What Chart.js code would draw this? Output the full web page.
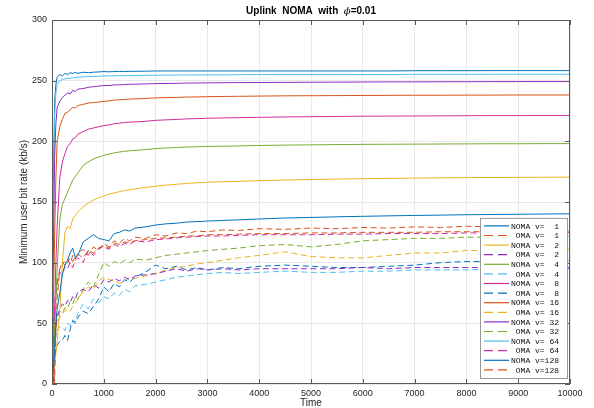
<!DOCTYPE html>
<html>
<head>
<meta charset="utf-8">
<script src="https://cdn.jsdelivr.net/npm/chart.js@4.4.0/dist/chart.umd.min.js"></script>
<style>
  html, body { margin: 0; padding: 0; background: #fff; }
</style>
</head>
<body>
<canvas id="chart" width="594" height="408"></canvas>
<script>
'use strict';

// time axis (samples)
var time = [0, 25, 50, 75, 100, 150, 200, 250, 300, 350, 400, 450, 500, 600, 700, 800, 900, 1000,
    1100, 1200, 1300, 1400, 1500, 1600, 1800, 2000, 2200, 2400, 2600, 2800, 3000, 3300, 3600, 4000,
    4500, 5000, 5500, 6000, 6500, 7000, 7500, 8000, 8500, 9000, 9500, 10000];

var nomaV1 = [0, 10, 30, 50, 62, 75, 90, 98, 102, 108, 112, 104, 106, 117, 120, 123, 120, 119,
    118, 124, 125, 127, 126, 128.5, 129.5, 131, 132, 132.5, 133.5, 133.8, 134.3, 134.8, 135.3, 136,
    136.8, 137.3, 137.8, 138.2, 138.6, 138.9, 139.2, 139.5, 139.7, 139.9, 140.1, 140.3];
var omaV1 = [40, 25, 0, 45, 70, 95, 100, 98, 103, 99, 106, 103, 108, 111, 106, 113, 110, 116,
    113, 118, 116, 120, 118, 121, 120, 123, 122, 124.5, 124, 126, 125.5, 127, 126.5, 128,
    127.5, 128.5, 128, 129, 128.5, 129.5, 129, 130, 129.5, 130, 130, 130];
var nomaV2 = [3, 8, 15, 25, 35, 60, 100, 125, 130, 128, 136, 139, 142, 146, 149, 151.5, 153.5, 155,
    156.5, 157.5, 158.5, 159.5, 160.2, 160.8, 162, 163, 163.9, 164.6, 165.3, 165.8, 166.3, 166.7, 167, 167.6,
    168.1, 168.5, 168.9, 169.2, 169.5, 169.7, 169.9, 170.1, 170.2, 170.3, 170.4, 170.5];
var omaV2 = [30, 0, 20, 45, 55, 62, 66, 64, 69, 67, 72, 70, 76, 78, 76, 82, 79, 86,
    84, 87, 85, 88, 86, 89, 90, 91, 93, 95, 93, 95, 94, 95, 94, 95,
    95, 95, 95, 96, 95, 96, 96, 96, 96, 96, 96, 96];
var nomaV4 = [5, 15, 40, 70, 95, 135, 148, 153, 158, 163, 168, 171, 174, 180, 183, 185.5, 187, 188.5,
    189.5, 190.5, 191.2, 191.8, 192.2, 192.6, 193.2, 194, 194.5, 194.9, 195.3, 195.5, 195.8, 196, 196.2, 196.6,
    196.9, 197.1, 197.3, 197.5, 197.6, 197.7, 197.8, 197.9, 198, 198, 198.1, 198.1];
var omaV4 = [25, 15, 30, 40, 45, 47, 47, 44, 50, 48, 53, 51, 58, 66, 62, 70, 67, 72,
    70, 75, 73, 78, 76, 81, 82, 84, 86, 88, 89, 90, 91, 92, 91, 92,
    93, 92, 92, 93, 93, 94, 94, 94, 95, 95, 95, 95];
var nomaV8 = [10, 30, 60, 100, 130, 170, 183, 190, 196, 198, 202, 203, 206, 208, 210, 211, 212, 213,
    213.5, 214.5, 215, 215.5, 215.8, 216, 216.5, 217.3, 217.7, 218, 218.5, 218.7, 219, 219.3, 219.5, 219.8,
    220.1, 220.3, 220.5, 220.7, 220.8, 220.9, 221, 221.1, 221.2, 221.2, 221.3, 221.3];
var omaV8 = [0, 10, 20, 28, 32, 35, 36, 40, 36, 45, 52, 50, 55, 60, 58, 64, 70, 80,
    76, 83, 80, 86, 84, 88, 92, 98, 95, 97, 94, 96, 94, 96, 95, 97,
    98, 97, 96, 96, 97, 98, 100, 101, 101, 101, 102, 102];
var nomaV16 = [15, 60, 120, 170, 200, 212, 218, 223, 224, 226, 228, 227.5, 229.5, 230.5, 231.5, 232, 232.3, 233,
    233.3, 234, 234.2, 234.6, 234.8, 235, 235.3, 235.8, 236, 236.2, 236.5, 236.6, 236.8, 237, 237.1, 237.3,
    237.5, 237.6, 237.7, 237.8, 237.9, 238, 238, 238.1, 238.1, 238.2, 238.2, 238.2];
var omaV16 = [5, 20, 35, 45, 50, 55, 58, 60, 62, 60, 64, 67, 70, 76, 80, 78, 85, 88,
    86, 85, 83, 84, 88, 87, 89, 91, 94, 96, 97, 99, 100, 102, 104, 106,
    109, 105, 104, 104, 106, 108, 108, 110, 110, 111, 110, 111];
var nomaV32 = [20, 100, 185, 215, 228, 233, 236, 238, 240, 239, 242, 241, 243, 243.5, 244.5, 245, 245.5, 246,
    246, 246.5, 246.6, 246.8, 247, 247.1, 247.3, 247.6, 247.7, 247.8, 248, 248.1, 248.2, 248.3, 248.4, 248.5,
    248.6, 248.7, 248.8, 248.9, 249, 249, 249.1, 249.1, 249.2, 249.2, 249.3, 249.3];
var omaV32 = [10, 30, 45, 50, 55, 60, 58, 63, 62, 68, 66, 72, 70, 78, 84, 80, 90, 100,
    97, 101, 99, 102, 100, 103, 102, 104, 106, 107, 108, 109, 110, 111, 112, 114,
    115, 113, 115, 118, 119, 120, 120, 121, 121, 122, 122, 122];
var nomaV64 = [25, 140, 220, 240, 247, 250, 251, 251.5, 252, 252, 252.5, 252.5, 253, 253, 253.5, 253.5, 253.6, 254,
    254, 254, 254.1, 254.2, 254.2, 254.3, 254.4, 254.5, 254.6, 254.6, 254.7, 254.7, 254.8, 254.8, 254.9, 255,
    255, 255, 255, 255.1, 255.1, 255.2, 255.2, 255.2, 255.3, 255.3, 255.3, 255.3];
var omaV64 = [20, 45, 60, 75, 85, 92, 90, 97, 95, 100, 96, 102, 104, 100, 110, 106, 112, 113,
    111, 115, 113, 116, 115, 118, 117, 119, 119.5, 120.5, 121, 121.5, 122, 122, 122.5, 123,
    123, 123, 123.5, 123.5, 124, 124, 124, 124.5, 124.5, 124.5, 124.5, 125];
var nomaV128 = [30, 160, 232, 247, 253, 255, 254, 256, 255, 256.5, 256, 256.8, 256, 257, 256.5, 257, 257.2, 257.5,
    257.3, 257.5, 257.6, 257.5, 257.7, 257.7, 257.8, 258, 258, 258, 258, 258, 258, 258, 258, 258,
    258, 258, 258, 258, 258, 258.2, 258.2, 258.2, 258.3, 258.3, 258.3, 258.3];
var omaV128 = [35, 50, 60, 70, 80, 95, 98, 102, 100, 104, 101, 105, 107, 104, 110, 108, 112, 114,
    112, 116, 115, 117, 116.5, 118, 119, 120, 120.5, 121, 122, 122, 123, 123, 123.5, 124,
    124, 124.5, 124.5, 125, 125, 125, 125.5, 125.5, 125.5, 126, 126, 126];

var seriesLabels = ['NOMA v=  1', 'OMA v=  1', 'NOMA v=  2', 'OMA v=  2', 'NOMA v=  4', 'OMA v=  4',
    'NOMA v=  8', 'OMA v=  8', 'NOMA v= 16', 'OMA v= 16', 'NOMA v= 32', 'OMA v= 32',
    'NOMA v= 64', 'OMA v= 64', 'NOMA v=128', 'OMA v=128'];
var seriesValues = [nomaV1, omaV1, nomaV2, omaV2, nomaV4, omaV4, nomaV8, omaV8,
    nomaV16, omaV16, nomaV32, omaV32, nomaV64, omaV64, nomaV128, omaV128];

var xTicks = [0, 1000, 2000, 3000, 4000, 5000, 6000, 7000, 8000, 9000, 10000];
var yTicks = [0, 50, 100, 150, 200, 250, 300];

var palette = ['#0072BD', '#D95319', '#EDB120', '#8A2DBE', '#77AC30', '#4DBEEE', '#CF2A9C'],
    axisColor = '#5a5a5a',
    textColor = '#262626',
    sansFont = '"Liberation Sans", Arial, sans-serif';

var toPoints = function (values) {
    return values.map(function (v, i) { return { x: time[i], y: v }; });
};

var datasets = seriesValues.map(function (values, index) {
    var dashed = index % 2 === 1;
    return {
        label: seriesLabels[index],
        data: toPoints(values),
        borderColor: palette[index % palette.length],
        borderWidth: 1,
        borderDash: dashed ? [6, 3.5] : [],
        pointRadius: 0,
        tension: 0,
        fill: false
    };
});

// MATLAB style box with inward ticks on all four sides
var boxPlugin = {
    id: 'boxPlugin',
    afterDraw: function (chart) {
        var ctx = chart.ctx, a = chart.chartArea,
            xs = chart.scales.x, ys = chart.scales.y, tl = 5;

        ctx.save();
        ctx.strokeStyle = axisColor;
        ctx.lineWidth = 1;
        ctx.strokeRect(a.left + 0.5, a.top + 0.5, a.right - a.left - 1, a.bottom - a.top - 1);
        ctx.beginPath();
        xTicks.forEach(function (t) {
            var px = Math.round(xs.getPixelForValue(t)) + 0.5;
            ctx.moveTo(px, a.bottom); ctx.lineTo(px, a.bottom - tl);
            ctx.moveTo(px, a.top); ctx.lineTo(px, a.top + tl);
        });
        yTicks.forEach(function (t) {
            var py = Math.round(ys.getPixelForValue(t)) + 0.5;
            ctx.moveTo(a.left, py); ctx.lineTo(a.left + tl, py);
            ctx.moveTo(a.right, py); ctx.lineTo(a.right - tl, py);
        });
        ctx.stroke();
        ctx.restore();
    }
};

// title with an italic phi
var titlePlugin = {
    id: 'titlePlugin',
    afterDraw: function (chart) {
        var ctx = chart.ctx, a = chart.chartArea,
            parts = [
                { text: 'Uplink  NOMA  with  ', font: 'bold 10px ' + sansFont },
                { text: '\u03D5', font: 'italic 10px "DejaVu Serif", serif' },
                { text: '=0.01', font: 'bold 10px ' + sansFont }
            ],
            total = 0, x;

        ctx.save();
        parts.forEach(function (p) { ctx.font = p.font; p.w = ctx.measureText(p.text).width; total += p.w; });
        x = (a.left + a.right) / 2 - total / 2;
        ctx.fillStyle = '#000';
        ctx.textBaseline = 'middle';
        parts.forEach(function (p) { ctx.font = p.font; ctx.fillText(p.text, x, 11); x += p.w; });
        ctx.restore();
    }
};

// legend box, bottom right inside the axes
var legendPlugin = {
    id: 'legendPlugin',
    afterDraw: function (chart) {
        var ctx = chart.ctx, a = chart.chartArea,
            sets = chart.data.datasets,
            rowH = 9.6, w = 87, h = sets.length * rowH + 6.5,
            x0 = a.right - 3 - w, y0 = a.bottom - 6 - h;

        ctx.save();
        ctx.fillStyle = '#fff';
        ctx.fillRect(x0, y0, w, h);
        ctx.strokeStyle = '#9a9a9a';
        ctx.lineWidth = 1;
        ctx.strokeRect(x0 + 0.5, y0 + 0.5, w, h);
        ctx.font = '8px "Liberation Mono", "DejaVu Sans Mono", monospace';
        ctx.textAlign = 'right';
        ctx.textBaseline = 'middle';
        sets.forEach(function (ds, i) {
            var cy = y0 + 8 + i * rowH;
            ctx.beginPath();
            ctx.strokeStyle = ds.borderColor;
            ctx.lineWidth = 1.2;
            ctx.setLineDash(ds.borderDash.length ? [9, 5] : []);
            ctx.moveTo(x0 + 4, cy);
            ctx.lineTo(x0 + 29, cy);
            ctx.stroke();
            ctx.setLineDash([]);
            ctx.fillStyle = '#111';
            ctx.fillText(ds.label, x0 + w - 8, cy + 0.5);
        });
        ctx.restore();
    }
};

new Chart(document.getElementById('chart'), {
    type: 'line',
    data: { datasets: datasets },
    options: {
        responsive: false,
        animation: false,
        devicePixelRatio: 1,
        layout: { padding: { left: 0, right: 24, top: 20, bottom: 0 } },
        plugins: {
            legend: { display: false },
            title: { display: false },
            tooltip: { enabled: false }
        },
        scales: {
            x: {
                type: 'linear',
                min: 0,
                max: 10000,
                afterFit: function (scale) { scale.height = 24; },
                afterBuildTicks: function (scale) {
                    scale.ticks = xTicks.map(function (v) { return { value: v }; });
                },
                grid: { color: '#e8e8e8', drawTicks: false },
                border: { display: false },
                ticks: {
                    padding: 4,
                    maxRotation: 0,
                    color: textColor,
                    font: { family: sansFont, size: 9 },
                    callback: function (v) { return String(v); }
                },
                title: {
                    display: true,
                    text: 'Time',
                    color: textColor,
                    padding: { top: 0, bottom: -1 },
                    font: { family: sansFont, size: 10 }
                }
            },
            y: {
                min: 0,
                max: 300,
                afterFit: function (scale) { scale.width = 52; },
                afterBuildTicks: function (scale) {
                    scale.ticks = yTicks.map(function (v) { return { value: v }; });
                },
                grid: { color: '#e8e8e8', drawTicks: false },
                border: { display: false },
                ticks: {
                    padding: 5,
                    color: textColor,
                    font: { family: sansFont, size: 9 }
                },
                title: {
                    display: true,
                    text: 'Minimum user bit rate (kb/s)',
                    color: textColor,
                    padding: { top: 18, bottom: 0 },
                    font: { family: sansFont, size: 10 }
                }
            }
        }
    },
    plugins: [boxPlugin, titlePlugin, legendPlugin]
});
</script>
</body>
</html>
